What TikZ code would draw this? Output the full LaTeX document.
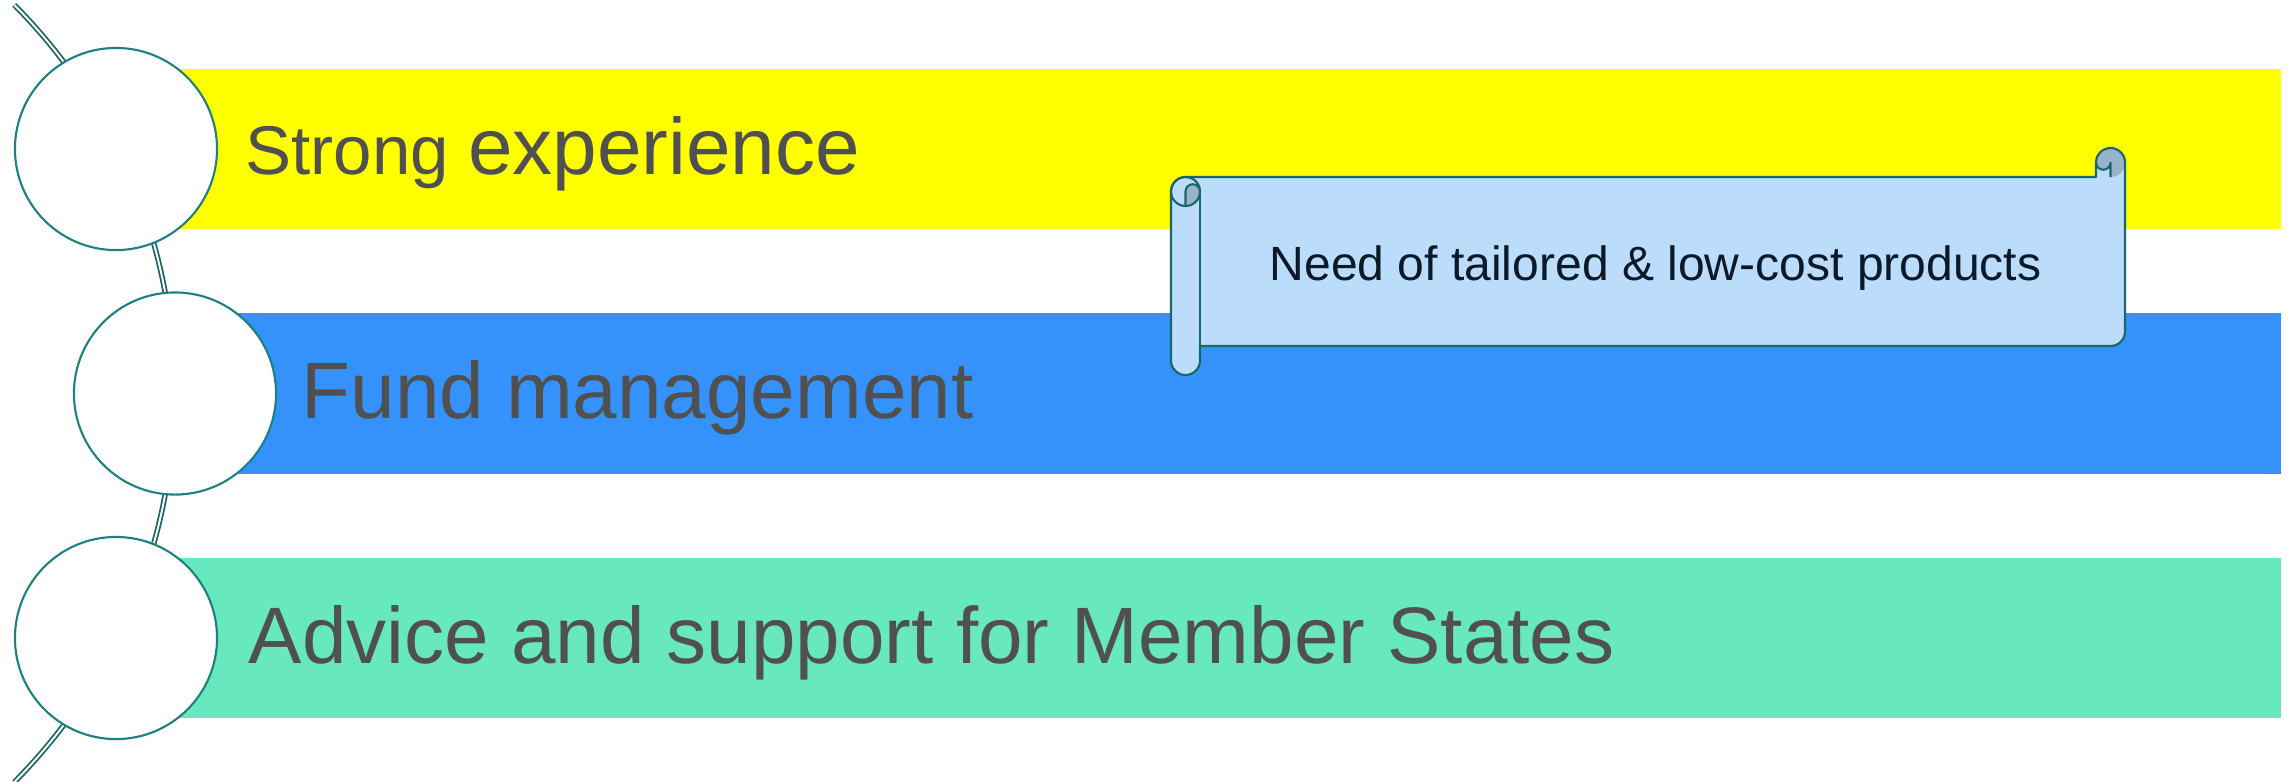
\documentclass[tikz,border=0pt]{standalone}
\usepackage{fontspec}
\setmainfont{Liberation Sans}
\definecolor{baryellow}{HTML}{FFFF00}
\definecolor{barblue}{HTML}{3592FA}
\definecolor{bargreen}{HTML}{68E8BE}
\definecolor{scrollfillc}{HTML}{BBDCFB}
\definecolor{scrolldarkc}{HTML}{98B3CC}
\definecolor{scrolllinec}{HTML}{1C6669}
\definecolor{circlinec}{HTML}{1E8082}
\definecolor{arclinec}{HTML}{1A6464}
\definecolor{textgray}{HTML}{505050}
\definecolor{textnavy}{HTML}{0B1929}
\begin{document}
\begin{tikzpicture}[x=0.01cm,y=-0.01cm,
  arcline/.style={draw=arclinec,line width=0.5pt,double=white,double distance=0.55pt},
  circ/.style={circle,draw=circlinec,fill=white,line width=0.6pt,minimum size=2.02cm,inner sep=0pt},
  bartext/.style={anchor=base west,inner sep=0pt,text=textgray,font=\fontsize{22.76}{27}\selectfont},
  scrollline/.style={draw=scrolllinec,line width=0.6pt,line join=round},
  scrolltext/.style={anchor=base,inner sep=0pt,text=textnavy,font=\fontsize{13.66}{16}\selectfont}]
\useasboundingbox (0,0) rectangle (2292,781);
% bars
\fill[baryellow] (116,69) rectangle (2281,229);
\fill[barblue] (175,313) rectangle (2281,474);
\fill[bargreen] (116,558) rectangle (2281,718);
% arc
\draw[arcline] (-377,393.5) ++(-44.8:551.5) arc[start angle=-44.8,end angle=44.8,radius=551.5];
% circles
\node[circ] (c1) at (116,149) {};
\node[circ] (c2) at (175,393.5) {};
\node[circ] (c3) at (116,638) {};
% texts
\node[bartext] (t1) at (245,174) {{\fontsize{19.63}{24}\selectfont Strong }experience};
\node[bartext] (t2) at (301,418) {Fund management};
\node[bartext] (t3) at (248,663) {Advice and support for Member States};
% scroll
\fill[scrollfillc] (1185.5,177) -- (2096,177) -- (2096,162.5) arc[start angle=180,end angle=360,radius=14.5]
  -- (2125,331.5) arc[start angle=0,end angle=90,radius=14.5] -- (1200,346) -- (1200,360.5)
  arc[start angle=0,end angle=180,radius=14.5] -- (1171,191.5) arc[start angle=180,end angle=270,radius=14.5] -- cycle;
\fill[scrolldarkc] (2110.5,177) arc[start angle=90,end angle=-180,radius=14.5]
  arc[start angle=180,end angle=0,radius=7.25] -- cycle;
\fill[scrolldarkc] (1185.5,206) -- (1185.5,191.5) arc[start angle=180,end angle=360,radius=7.25]
  arc[start angle=0,end angle=90,radius=14.5] -- cycle;
\draw[scrollline] (1171,191.5) arc[start angle=180,end angle=270,radius=14.5] -- (2096,177) -- (2096,162.5)
  arc[start angle=180,end angle=360,radius=14.5] -- (2125,331.5) arc[start angle=0,end angle=90,radius=14.5]
  -- (1200,346) -- (1200,360.5) arc[start angle=0,end angle=180,radius=14.5] -- cycle;
\draw[scrollline] (2110.5,177) -- (2110.5,162.5) arc[start angle=0,end angle=180,radius=7.25];
\draw[scrollline] (1185.5,206) -- (1185.5,191.5) arc[start angle=180,end angle=360,radius=7.25];
\draw[scrollline] (1185.5,191.5) circle[radius=14.5];
\draw[scrollline] (1200,191.5) -- (1200,346);
\node[scrolltext] (st) at (1655.5,280) {Need of tailored \& low-cost products};
\end{tikzpicture}
\end{document}
